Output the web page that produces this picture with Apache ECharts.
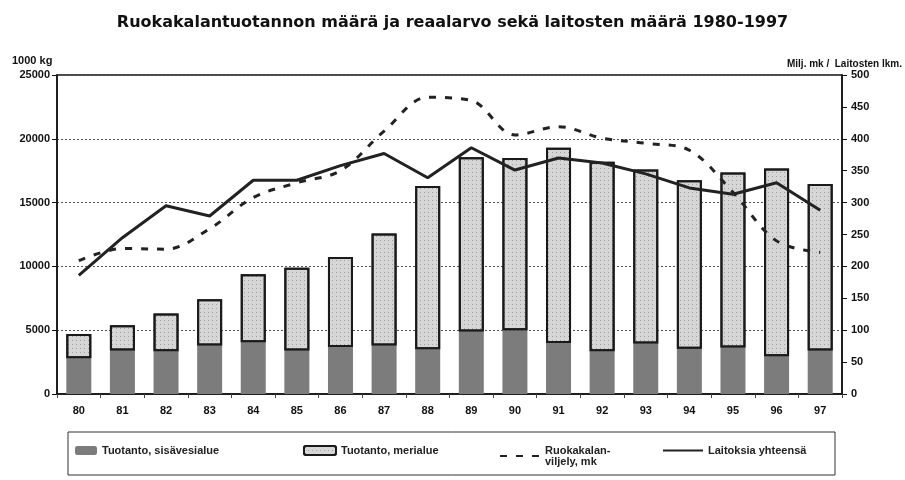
<!DOCTYPE html>
<html>
<head>
<meta charset="utf-8">
<script src="https://cdn.jsdelivr.net/npm/echarts@6/dist/echarts.min.js"></script>
<style>html,body{margin:0;padding:0;background:#fff;}#c{width:905px;height:480px;}</style>
</head>
<body>
<div id="c"></div>
<script>
const years = ['80','81','82','83','84','85','86','87','88','89','90','91','92','93','94','95','96','97'];
// Tuotanto, sisävesialue (1000 kg)
const inland = [2800,3400,3350,3800,4050,3400,3680,3800,3500,4900,5000,4000,3350,3950,3550,3650,2950,3400];
// Tuotanto, merialue (1000 kg)
const marine = [1910,1990,2950,3620,5330,6500,7050,8770,12800,13650,13500,15300,14850,13650,13200,13700,14730,13050];
// Ruokakalanviljely, milj. mk
const value = [209,228,227,259,308,331,350,412,465,460,406,419,401,393,382,316,240,222];
// Laitoksia yhteensä
const plants = [186,245,295,279,335,335,358,377,339,386,351,370,362,345,323,313,331,288];
const leftTicks = [0,5000,10000,15000,20000,25000];
const rightTicks = [0,50,100,150,200,250,300,350,400,450,500];

const names = ['Tuotanto, sisävesialue','Tuotanto, merialue','Ruokakalan-\nviljely, mk','Laitoksia yhteensä'];
const font = 'Liberation Sans, Arial, sans-serif';
const chart = echarts.init(document.getElementById('c'), null, {renderer:'canvas'});
const legendText = {color:'#222', fontFamily:font, fontSize:11, fontWeight:'bold'};
chart.setOption({
  animation:false,
  backgroundColor:'#fff',
  title:{text:'Ruokakalantuotannon määrä ja reaalarvo sekä laitosten määrä 1980-1997', left:'center', top:10,
    textStyle:{fontFamily:'DejaVu Sans, sans-serif', fontSize:16, fontWeight:'bold', color:'#111'}},
  grid:{left:57, right:63, top:75, bottom:86, show:true, borderColor:'#111', borderWidth:1.5, backgroundColor:'transparent'},
  graphic:[{type:'rect', shape:{x:68, y:432, width:767, height:43}, style:{fill:'none', stroke:'#333', lineWidth:1}}],
  legend:[
    {data:[names[0]], left:70, top:440, itemWidth:22, itemHeight:9, textStyle:legendText},
    {data:[names[1]], left:298, top:440, itemWidth:32, itemHeight:9, textStyle:legendText},
    {data:[names[2]], left:494, top:440, itemWidth:40, itemHeight:9, textStyle:legendText, itemStyle:{opacity:0}},
    {data:[names[3]], left:657, top:440, itemWidth:40, itemHeight:9, textStyle:legendText, itemStyle:{opacity:0}}
  ],
  xAxis:{type:'category', data:years, boundaryGap:true,
    axisLine:{lineStyle:{color:'#111', width:1.5}},
    axisTick:{show:true, length:4, lineStyle:{color:'#444'}},
    axisLabel:{color:'#111', fontFamily:font, fontSize:11, fontWeight:'bold', margin:11}},
  yAxis:[
    {type:'value', min:0, max:25000, interval:5000, name:'1000 kg', nameGap:9,
      nameTextStyle:{color:'#111', fontFamily:font, fontSize:11, fontWeight:'bold', align:'left', padding:[0,0,0,-45]},
      axisLine:{show:true, lineStyle:{color:'#111', width:1.5}},
      axisTick:{show:true, length:5, lineStyle:{color:'#111'}},
      axisLabel:{color:'#111', fontFamily:font, fontSize:11, fontWeight:'bold', margin:7,
        formatter:v=>leftTicks.indexOf(v)>=0?String(v):''},
      splitLine:{show:true, lineStyle:{color:'#555', type:[2,2], width:1}}},
    {type:'value', min:0, max:500, interval:50, position:'right', name:'Milj. mk /  Laitosten lkm.', nameGap:5,
      nameTextStyle:{color:'#111', fontFamily:font, fontSize:10, fontWeight:'bold', align:'right', padding:[0,-60,0,0]},
      axisLine:{show:true, lineStyle:{color:'#111', width:1.5}},
      axisTick:{show:true, length:5, lineStyle:{color:'#111'}},
      axisLabel:{color:'#111', fontFamily:font, fontSize:11, fontWeight:'bold', margin:9,
        formatter:v=>rightTicks.indexOf(v)>=0?String(v):''},
      splitLine:{show:false}}
  ],
  series:[
    {name:names[0], type:'bar', stack:'t', data:inland, barWidth:25,
      itemStyle:{color:'#7c7c7c'}},
    {name:names[1], type:'bar', stack:'t', data:marine, barWidth:25,
      itemStyle:{color:'#d6d6d6', borderColor:'#1a1a1a', borderWidth:2,
        decal:{symbol:'rect', symbolSize:1, dashArrayX:[1,3], dashArrayY:[1,3], color:'rgba(40,40,40,0.3)'}}},
    {name:names[2], type:'line', yAxisIndex:1, data:value, symbol:'none', smooth:0.35,
      lineStyle:{color:'#222', width:3, type:[7,9]}, itemStyle:{color:'#222'}},
    {name:names[3], type:'line', yAxisIndex:1, data:plants, symbol:'none',
      lineStyle:{color:'#222', width:3}, itemStyle:{color:'#222'}}
  ]
});
</script>
</body>
</html>
